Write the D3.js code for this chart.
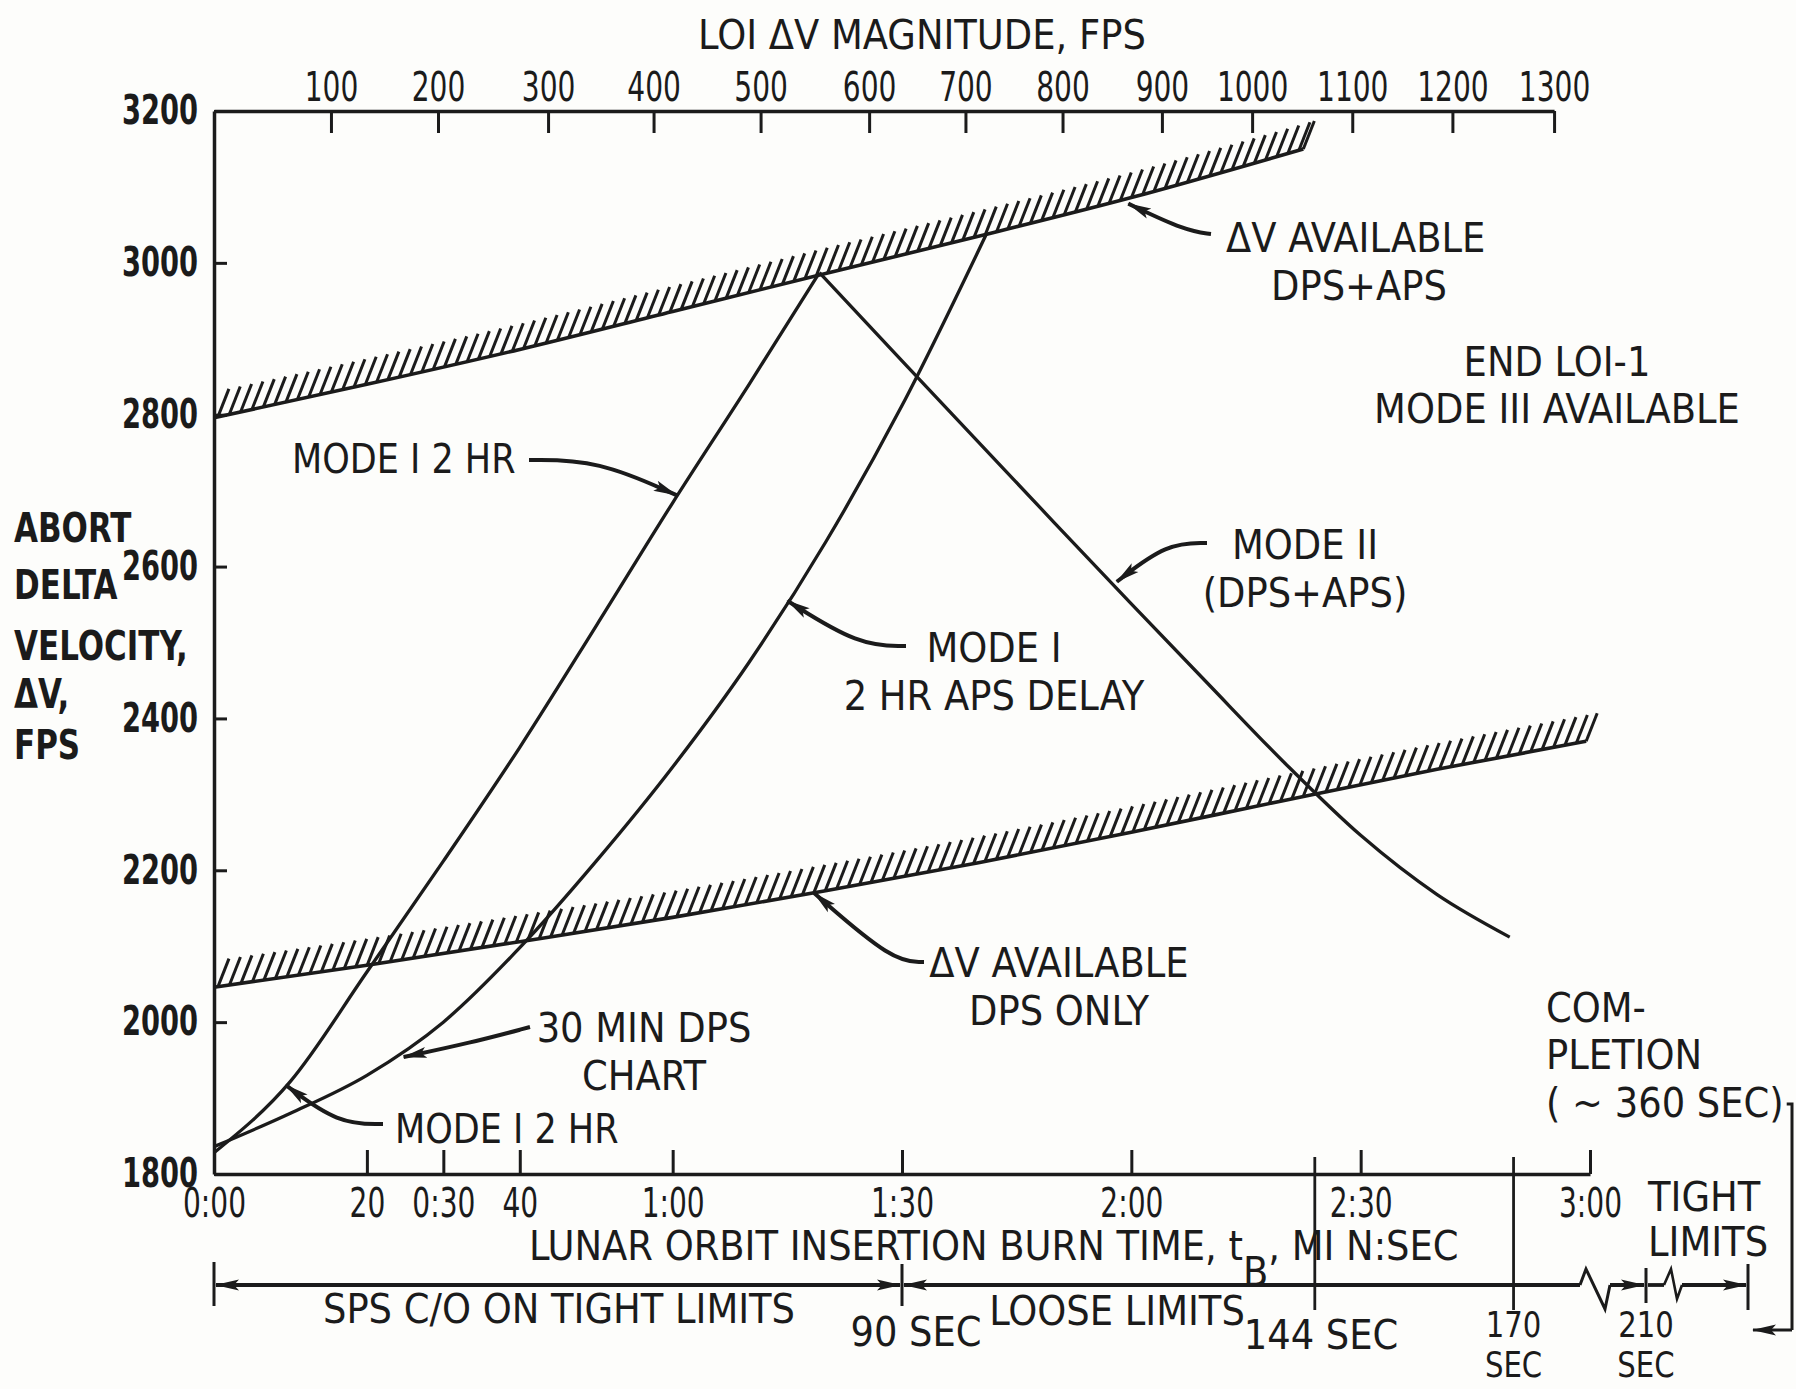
<!DOCTYPE html>
<html>
<head>
<meta charset="utf-8">
<script src="https://cdn.jsdelivr.net/npm/d3@7"></script>
<style>
  html, body { margin: 0; padding: 0; background: #fdfdfb; }
  svg text {
    font-family: "DejaVu Sans Condensed", "Liberation Sans Narrow", "DejaVu Sans", sans-serif;
    fill: #1b1b1b;
  }
</style>
</head>
<body>
<svg id="chart"></svg>
<script>
// ---- data (burn time in sec, delta V in fps) ----
const dpsApsAvailTime = [0, 20, 40, 60, 80, 100, 120, 142.5];
const dpsApsAvailDv   = [2796, 2840, 2886, 2936, 2986, 3035, 3086, 3150];

const dpsOnlyAvailTime = [0, 20, 40, 60, 80, 100, 120, 140, 160, 179.5];
const dpsOnlyAvailDv   = [2046, 2075, 2106, 2138, 2173, 2210, 2250, 2292, 2333, 2370];

const mode1Time = [0, 10, 20, 30, 40, 50, 60, 70, 79.2];
const mode1Dv   = [1828, 1922, 2066, 2212, 2362, 2522, 2684, 2840, 2987];

const mode1DelayTime = [0, 10, 20, 30, 40, 50, 60, 70, 80, 90, 101];
const mode1DelayDv   = [1836, 1880, 1930, 2000, 2098, 2212, 2336, 2474, 2632, 2812, 3037];

const mode2Time = [79.2, 90, 100, 110, 120, 130, 140, 150, 160, 169.5];
const mode2Dv   = [2987, 2871, 2764, 2657, 2551, 2446, 2342, 2246, 2168, 2112];

// left axis
const dvTicks = [1800, 2000, 2200, 2400, 2600, 2800, 3000, 3200];
// bottom axis
const burnTickSec    = [0, 20, 30, 40, 60, 90, 120, 150, 180];
const burnTickLabels = ["0:00", "20", "0:30", "40", "1:00", "1:30", "2:00", "2:30", "3:00"];
// top axis: LOI dV magnitude and the burn time it falls at
const loiDvTicks    = [100, 200, 300, 400, 500, 600, 700, 800, 900, 1000, 1100, 1200, 1300];
const loiDvTickTime = [15.3, 29.3, 43.7, 57.5, 71.5, 85.7, 98.3, 111.0, 124.0, 135.8, 148.9, 162.0, 175.3];
// cutoff limits row (sec), the row is broken after 3:00
const limitSec = [90, 144, 170, 210, 360];

class AbortDvChart {

  constructor(_config) {
    this.config = {
      parentElement: _config.parentElement,
      containerWidth: _config.containerWidth || 1796,
      containerHeight: _config.containerHeight || 1389,
      plot: { left: 214, right: 1590, top: 111, bottom: 1174 }
    }
    this.initVis();
  }

  initVis() {
    let vis = this;
    const p = vis.config.plot;

    vis.svg = d3.select(vis.config.parentElement)
        .attr('width', vis.config.containerWidth)
        .attr('height', vis.config.containerHeight);

    vis.ink = '#1b1b1b';

    vis.xScale = d3.scaleLinear().domain([0, 180]).range([p.left, p.right]);
    vis.yScale = d3.scaleLinear().domain([1800, 3200]).range([p.bottom, p.top]);
    // top axis is not linear in dV, map it through burn time
    vis.topScale = d3.scaleLinear()
        .domain([0, ...loiDvTicks])
        .range([0, ...loiDvTickTime].map(vis.xScale));
    // limits row: broken after 180 sec
    vis.limitScale = d3.scaleLinear()
        .domain([0, 180, 210, 360])
        .range([p.left, p.right, 1646, 1748]);

    vis.line = d3.line()
        .x(d => vis.xScale(d[0]))
        .y(d => vis.yScale(d[1]))
        .curve(d3.curveMonotoneX);

    const defs = vis.svg.append('defs');
    defs.append('marker')
        .attr('id', 'head')
        .attr('viewBox', '0 0 24 12')
        .attr('refX', 23).attr('refY', 6)
        .attr('markerWidth', 24).attr('markerHeight', 12)
        .attr('markerUnits', 'userSpaceOnUse')
        .attr('orient', 'auto-start-reverse')
      .append('path')
        .attr('d', 'M0,0.5 L24,6 L0,11.5 L5,6 Z')
        .attr('fill', vis.ink);

    vis.renderVis();
  }

  // squeeze text horizontally around its anchor x (the lettering is narrow)
  condense(sel, x, k) {
    sel.attr('transform', `translate(${x},0) scale(${k},1) translate(${-x},0)`);
  }

  renderVis() {
    let vis = this;
    const p = vis.config.plot;
    const fs = 41;

    // axes
    const topAxis = d3.axisTop(vis.topScale).tickValues(loiDvTicks)
        .tickFormat(d3.format('d'))
        .tickSizeInner(-22).tickSizeOuter(0).tickPadding(10);
    const leftAxis = d3.axisLeft(vis.yScale).tickValues(dvTicks)
        .tickFormat(d3.format('d'))
        .tickSizeInner(-13).tickSizeOuter(0).tickPadding(17);
    const bottomAxis = d3.axisBottom(vis.xScale).tickValues(burnTickSec)
        .tickFormat((d, i) => burnTickLabels[i])
        .tickSizeInner(-24).tickSizeOuter(0).tickPadding(15);

    const axes = [
      vis.svg.append('g').attr('transform', `translate(0,${p.top})`).call(topAxis),
      vis.svg.append('g').attr('transform', `translate(${p.left},0)`).call(leftAxis),
      vis.svg.append('g').attr('transform', `translate(0,${p.bottom})`).call(bottomAxis)
    ];
    axes.forEach(g => {
      g.attr('font-family', null);
      g.select('.domain').attr('stroke', vis.ink).attr('stroke-width', 3.5);
      g.selectAll('.tick line').attr('stroke', vis.ink).attr('stroke-width', 3);
      g.selectAll('.tick text').attr('font-size', 40).attr('fill', vis.ink)
          .attr('transform', 'scale(0.78,1)');
    });
    axes[1].selectAll('.tick text')
        .attr('font-weight', 'bold')
        .attr('x', 0)
        .attr('transform', 'translate(-16,0) scale(0.76,1)');

    // hatched "dV available" boundaries
    const hatched = [
      d3.zip(dpsApsAvailTime, dpsApsAvailDv),
      d3.zip(dpsOnlyAvailTime, dpsOnlyAvailDv)
    ];
    hatched.forEach(pts => {
      const path = vis.svg.append('path')
          .datum(pts)
          .attr('d', vis.line)
          .attr('fill', 'none')
          .attr('stroke', vis.ink)
          .attr('stroke-width', 3.6);
      const node = path.node();
      const len = node.getTotalLength();
      const marks = d3.range(4, len + 8, 11.6).map(l => node.getPointAtLength(Math.min(l, len)));
      vis.svg.append('g').selectAll('line')
          .data(marks)
        .join('line')
          .attr('x1', d => d.x).attr('y1', d => d.y)
          .attr('x2', d => d.x + 11).attr('y2', d => d.y - 28)
          .attr('stroke', vis.ink)
          .attr('stroke-width', 3);
    });

    // abort curves
    [
      d3.zip(mode1Time, mode1Dv),
      d3.zip(mode1DelayTime, mode1DelayDv),
      d3.zip(mode2Time, mode2Dv)
    ].forEach(pts => {
      vis.svg.append('path')
          .datum(pts)
          .attr('d', vis.line)
          .attr('fill', 'none')
          .attr('stroke', vis.ink)
          .attr('stroke-width', 3.3)
          .attr('stroke-linejoin', 'round');
    });

    // labels with leader arrows (tip given in data units)
    const notes = [
      { lines: ['MODE I 2 HR'], x: 292, y: 473, anchor: 'start', k: 0.95,
        tail: [[529, 460], [598, 460]], tip: [60.5, 2694] },
      { lines: ['ΔV AVAILABLE', 'DPS+APS'], x: 1226, y: 252, anchor: 'start', dx: [0, 45],
        tail: [[1211, 234], [1186, 231]], tip: [119.6, 3078] },
      { lines: ['MODE II', '(DPS+APS)'], x: 1305, y: 559, anchor: 'middle',
        tail: [[1207, 543], [1167, 543]], tip: [118.1, 2580] },
      { lines: ['MODE I', '2 HR APS DELAY'], x: 994, y: 662, anchor: 'middle',
        tail: [[906, 646], [859, 646]], tip: [75.0, 2555] },
      { lines: ['ΔV AVAILABLE', 'DPS ONLY'], x: 1059, y: 977, anchor: 'middle',
        tail: [[924, 962], [893, 962]], tip: [78.5, 2170] },
      { lines: ['30 MIN DPS', 'CHART'], x: 644, y: 1042, anchor: 'middle',
        tail: [[530, 1027], [470, 1043]], tip: [24.8, 1954] },
      { lines: ['MODE I 2 HR'], x: 395, y: 1143, anchor: 'start', k: 0.95,
        tail: [[383, 1124], [338, 1124]], tip: [9.4, 1917] }
    ];
    const arrowLine = d3.line().curve(d3.curveBasis);
    notes.forEach(n => {
      const t = vis.svg.append('text')
          .attr('font-size', fs)
          .attr('text-anchor', n.anchor);
      n.lines.forEach((s, i) => {
        t.append('tspan')
            .attr('x', n.x + (n.dx ? n.dx[i] : 0))
            .attr('y', n.y + i * 48)
            .text(s);
      });
      if (n.k) vis.condense(t, n.x, n.k);
      const tip = [vis.xScale(n.tip[0]), vis.yScale(n.tip[1])];
      vis.svg.append('path')
          .attr('d', arrowLine([...n.tail, tip]))
          .attr('fill', 'none')
          .attr('stroke', vis.ink)
          .attr('stroke-width', 4)
          .attr('marker-end', 'url(#head)');
    });

    // plain text blocks
    const blocks = [
      { lines: ['LOI ΔV MAGNITUDE, FPS'], x: 922, y: 49, anchor: 'middle' },
      { lines: ['ABORT', 'DELTA', 'VELOCITY,', 'ΔV,', 'FPS'], x: 14, y: 542, anchor: 'start',
        bold: true, k: 0.84, gaps: [0, 57, 118, 166, 217] },
      { lines: ['END LOI-1', 'MODE III  AVAILABLE'], x: 1557, y: 376, anchor: 'middle' },
      { lines: ['COM-', 'PLETION'], x: 1546, y: 1022, anchor: 'start' },
      { lines: ['SPS C/O ON TIGHT LIMITS'], x: 559, y: 1323, anchor: 'middle' },
      { lines: ['90 SEC'], x: 916, y: 1346, anchor: 'middle' },
      { lines: ['LOOSE LIMITS'], x: 1117, y: 1325, anchor: 'middle' },
      { lines: ['144 SEC'], x: 1321, y: 1349, anchor: 'middle' },
      { lines: ['170', 'SEC'], x: vis.limitScale(170), y: 1337, anchor: 'middle', fs: 36, step: 40, k: 0.9 },
      { lines: ['210', 'SEC'], x: vis.limitScale(210), y: 1337, anchor: 'middle', fs: 36, step: 40, k: 0.9 },
      { lines: ['TIGHT', 'LIMITS'], x: 1648, y: 1211, anchor: 'start', step: 45 }
    ];
    blocks.forEach(b => {
      const t = vis.svg.append('text')
          .attr('font-size', b.fs || fs)
          .attr('text-anchor', b.anchor)
          .attr('font-weight', b.bold ? 'bold' : null);
      b.lines.forEach((s, i) => {
        t.append('tspan')
            .attr('x', b.x)
            .attr('y', b.y + (b.gaps ? b.gaps[i] : i * (b.step || 47)))
            .text(s);
      });
      if (b.k) vis.condense(t, b.x, b.k);
    });

    // completion line and its bracket down to the end of the limits row
    const compX = 1546;
    const comp = vis.svg.append('text')
        .attr('x', compX).attr('y', 1117)
        .attr('font-size', fs)
        .text('( ~ 360 SEC)');
    const cb = comp.node().getBBox();
    const compEnd = cb.x + cb.width;
    vis.svg.append('path')
        .attr('d', `M${compEnd + 3},1104 H1792 V1330`)
        .attr('stroke', vis.ink).attr('stroke-width', 3).attr('fill', 'none');
    vis.svg.append('path')
        .attr('d', `M1792,1330 H1753`)
        .attr('stroke', vis.ink).attr('stroke-width', 3).attr('fill', 'none')
        .attr('marker-end', 'url(#head)');

    // bottom axis title with the t-sub-B
    const title = vis.svg.append('text')
        .attr('x', 529).attr('y', 1260)
        .attr('font-size', fs);
    title.append('tspan').text('LUNAR ORBIT INSERTION BURN TIME, t');
    title.append('tspan').attr('dy', 26).text('B');
    title.append('tspan').attr('dy', -26).text(',  MI N:SEC');

    // vertical limit markers reaching down into the limits row
    const rowY = 1285;
    vis.svg.append('g').selectAll('line')
        .data([144, 170])
      .join('line')
        .attr('x1', d => vis.xScale(d)).attr('x2', d => vis.xScale(d))
        .attr('y1', p.bottom - 17).attr('y2', 1310)
        .attr('stroke', vis.ink).attr('stroke-width', 2.8);

    // end bars and separator ticks of the limits row
    const bars = [
      { s: 0, y1: 1262, y2: 1306 },
      { s: 90, y1: 1264, y2: 1306 },
      { s: 210, y1: 1268, y2: 1303 },
      { s: 360, y1: 1264, y2: 1310 }
    ];
    vis.svg.append('g').selectAll('line')
        .data(bars)
      .join('line')
        .attr('x1', d => vis.limitScale(d.s)).attr('x2', d => vis.limitScale(d.s))
        .attr('y1', d => d.y1).attr('y2', d => d.y2)
        .attr('stroke', vis.ink).attr('stroke-width', 3);

    const seg = (a, b, start, end) => vis.svg.append('path')
        .attr('d', `M${a},${rowY}H${b}`)
        .attr('stroke', vis.ink).attr('stroke-width', 3.8).attr('fill', 'none')
        .attr('marker-start', start ? 'url(#head)' : null)
        .attr('marker-end', end ? 'url(#head)' : null);

    const L = vis.limitScale;
    seg(L(0) + 2, L(limitSec[0]) - 2, true, true);
    seg(L(limitSec[0]) + 2, L(180) - 10, true, false);
    // break symbol after 3:00
    vis.svg.append('path')
        .attr('d', `M${L(180) - 10},${rowY} L${L(180) - 4},${rowY - 16} L${L(180) + 15},${rowY + 24} L${L(180) + 20},${rowY}`)
        .attr('stroke', vis.ink).attr('stroke-width', 3).attr('fill', 'none');
    seg(L(180) + 20, L(210) - 2, false, true);
    seg(L(210) + 2, L(210) + 18, false, false);
    vis.svg.append('path')
        .attr('d', `M${L(210) + 18},${rowY} L${L(210) + 25},${rowY - 16} L${L(210) + 31},${rowY + 14} L${L(210) + 36},${rowY}`)
        .attr('stroke', vis.ink).attr('stroke-width', 2.6).attr('fill', 'none');
    seg(L(210) + 36, L(360) - 2, false, true);
  }
}

new AbortDvChart({ parentElement: '#chart', containerWidth: 1796, containerHeight: 1389 });
</script>
</body>
</html>
